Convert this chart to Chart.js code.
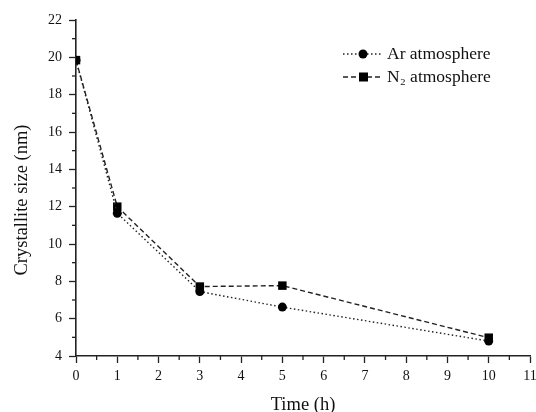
<!DOCTYPE html>
<html>
<head>
<meta charset="utf-8">
<script src="https://cdn.jsdelivr.net/npm/chart.js@4/dist/chart.umd.min.js"></script>
<style>
  html, body { margin: 0; padding: 0; background: #fff; }
  #wrap { width: 536px; height: 412px; }
</style>
</head>
<body>
<div id="wrap"><canvas id="sizeChart" width="536" height="412"></canvas></div>
<script>
// milling time (h) and crystallite size (nm)
const times = [0, 1, 3, 5, 10];
const arSize = [19.85, 11.65, 7.45, 6.62, 4.8];
const n2Size = [19.85, 12.0, 7.72, 7.77, 4.98];
const seriesNames = ["Ar atmosphere", "N\u2082 atmosphere"];
const yTitle = "Crystallite size (nm)";

const serif = "'Liberation Serif', 'Times New Roman', serif";
const ink = "#222";

function pts(ys) {
  return times.map((t, i) => ({ x: t, y: ys[i] }));
}

// small ticks between the labelled ones
const minorTicks = {
  id: "minorTicks",
  afterDraw(chart) {
    const c = chart.ctx, xs = chart.scales.x, ys = chart.scales.y;
    c.save();
    c.strokeStyle = ink;
    c.lineWidth = 1.3;
    for (let v = 0.5; v < 11; v += 1) {
      const px = xs.getPixelForValue(v);
      c.beginPath(); c.moveTo(px, xs.top); c.lineTo(px, xs.top + 4); c.stroke();
    }
    for (let v = 5; v < 22; v += 2) {
      const py = ys.getPixelForValue(v);
      c.beginPath(); c.moveTo(ys.right, py); c.lineTo(ys.right - 4, py); c.stroke();
    }
    c.restore();
  }
};

// rotated y title, sitting a bit below the plot's middle
const sideTitle = {
  id: "sideTitle",
  afterDraw(chart) {
    const c = chart.ctx;
    c.save();
    c.translate(22, 200);
    c.rotate(-Math.PI / 2);
    c.font = "18.5px " + serif;
    c.fillStyle = "#111";
    c.textAlign = "center";
    c.textBaseline = "middle";
    c.fillText(yTitle, 0, 0);
    c.restore();
  }
};

// legend with line style + marker, drawn inside the plot
const lineLegend = {
  id: "lineLegend",
  afterDraw(chart) {
    const c = chart.ctx;
    c.save();
    c.font = "17.5px " + serif;
    c.textBaseline = "middle";
    chart.data.datasets.forEach((ds, i) => {
      const y = 54 + i * 23;
      c.strokeStyle = ink;
      c.lineWidth = 1.3;
      c.setLineDash(ds.borderDash);
      c.beginPath(); c.moveTo(343, y); c.lineTo(382, y); c.stroke();
      c.setLineDash([]);
      c.fillStyle = "#000";
      if (ds.pointStyle === "rect") {
        c.fillRect(359, y - 4.5, 9, 9);
      } else {
        c.beginPath(); c.arc(363, y, 4.5, 0, Math.PI * 2); c.fill();
      }
      c.fillStyle = "#111";
      c.fillText(seriesNames[i], 387, y);
    });
    c.restore();
  }
};

new Chart(document.getElementById("sizeChart"), {
  type: "line",
  data: {
    datasets: [{
      label: seriesNames[0],
      data: pts(arSize),
      borderColor: ink,
      borderWidth: 1.4,
      borderDash: [1.5, 2.5],
      pointStyle: "circle",
      pointRadius: 4.5,
      pointBackgroundColor: "#000",
      pointBorderWidth: 0,
      tension: 0
    }, {
      label: seriesNames[1],
      data: pts(n2Size),
      borderColor: ink,
      borderWidth: 1.4,
      borderDash: [5, 3],
      pointStyle: "rect",
      pointRadius: 6,
      pointBackgroundColor: "#000",
      pointBorderWidth: 0,
      tension: 0
    }]
  },
  options: {
    responsive: false,
    animation: false,
    layout: { padding: { left: 0, top: 20, right: 5, bottom: 0 } },
    plugins: { legend: { display: false }, tooltip: { enabled: false } },
    scales: {
      x: {
        type: "linear",
        min: 0, max: 11,
        ticks: { stepSize: 1, color: "#111", font: { family: serif, size: 14 }, padding: 5 },
        grid: { drawOnChartArea: false, tickLength: 7, color: ink, tickWidth: 1.3 },
        border: { color: ink, width: 1.6 },
        title: { display: true, text: "Time (h)", color: "#111", font: { family: serif, size: 18.5, lineHeight: 1 }, padding: { top: 0, bottom: -2 } },
        afterFit(scale) { scale.height = 56; scale.paddingRight = 0; }
      },
      y: {
        min: 4, max: 22,
        ticks: { stepSize: 2, color: "#111", font: { family: serif, size: 14 }, padding: 7 },
        grid: { drawOnChartArea: false, tickLength: 7, color: ink, tickWidth: 1.3 },
        border: { color: ink, width: 1.6 },
        afterFit(scale) { scale.width = 76; }
      }
    }
  },
  plugins: [minorTicks, sideTitle, lineLegend]
});
</script>
</body>
</html>
